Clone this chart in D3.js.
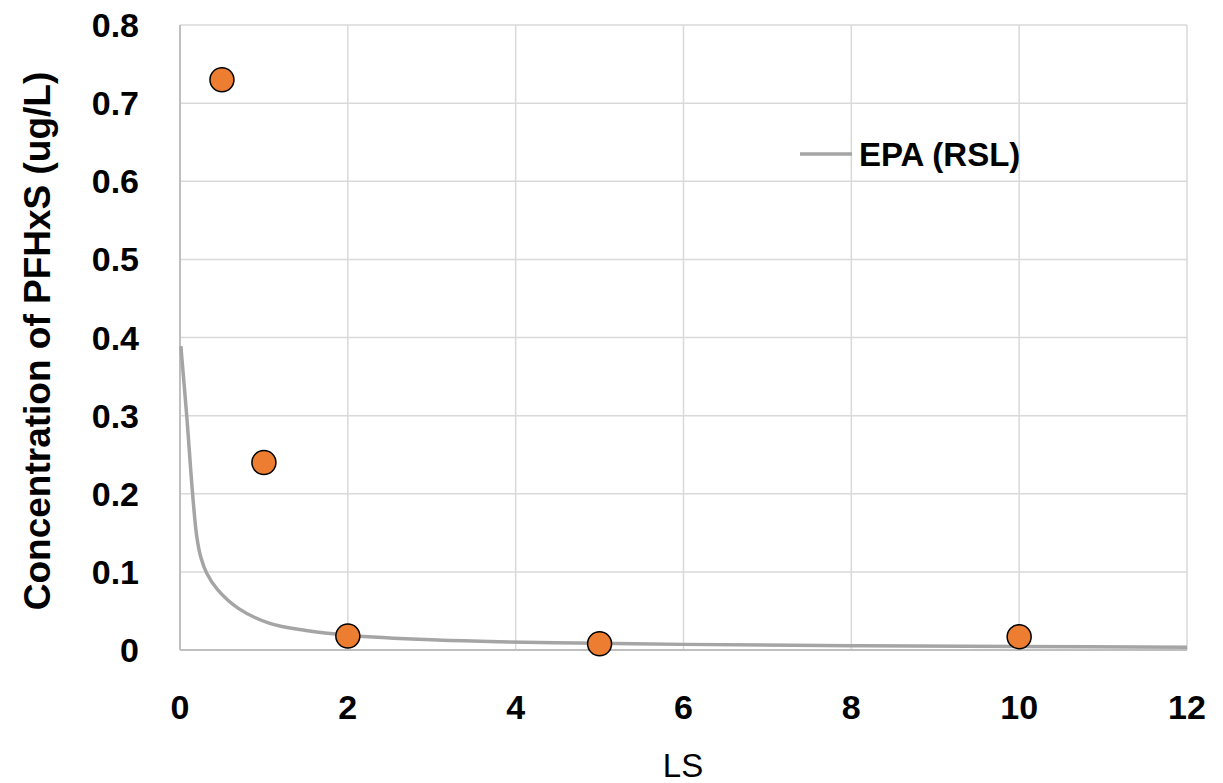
<!DOCTYPE html>
<html lang="en">
  <head>
    <meta charset="UTF-8" />
    <title>PFHxS vs LS</title>
    <style>
      body { margin: 0; background: #fff; }
      text { font-family: "Liberation Sans", Arial, sans-serif; }
    </style>
  </head>
  <body>
    <script src="https://d3js.org/d3.v7.min.js"></script>
    <script>
      const width = 1223
      const height = 783

      // measured points
      const lsValues = [0.5, 1, 2, 5, 10]
      const pfhxs = [0.73, 0.24, 0.018, 0.008, 0.017]

      // EPA (RSL) curve
      const rslX = [0.01, 0.08, 0.15, 0.2, 0.25, 0.32, 0.45, 0.7, 1.07, 1.5, 2, 3, 3.8, 5, 6, 8, 10, 12]
      const rslY = [0.389, 0.3, 0.2, 0.145, 0.118, 0.098, 0.077, 0.053, 0.034, 0.025, 0.019, 0.013, 0.0106, 0.0085, 0.0072, 0.0055, 0.0045, 0.0035]

      const xTicks = [0, 2, 4, 6, 8, 10, 12]
      const yTicks = [0, 0.1, 0.2, 0.3, 0.4, 0.5, 0.6, 0.7, 0.8]

      const svg = d3.select("body").append("svg")
        .attr("width", width)
        .attr("height", height)

      const x = d3.scaleLinear().domain([0, 12]).range([180, 1187])
      const y = d3.scaleLinear().domain([0, 0.8]).range([650, 25])

      // grid
      svg.append("g").selectAll("line.h")
        .data(yTicks.slice(1))
        .enter().append("line")
        .attr("x1", x(0)).attr("x2", x(12))
        .attr("y1", d => y(d)).attr("y2", d => y(d))
        .attr("stroke", "#d9d9d9").attr("stroke-width", 1.5)

      svg.append("g").selectAll("line.v")
        .data(xTicks.slice(1))
        .enter().append("line")
        .attr("x1", d => x(d)).attr("x2", d => x(d))
        .attr("y1", y(0)).attr("y2", y(0.8))
        .attr("stroke", "#d9d9d9").attr("stroke-width", 1.5)

      // axis lines
      svg.append("line")
        .attr("x1", x(0)).attr("x2", x(12))
        .attr("y1", y(0)).attr("y2", y(0))
        .attr("stroke", "#bfbfbf").attr("stroke-width", 2)
      svg.append("line")
        .attr("x1", x(0)).attr("x2", x(0))
        .attr("y1", y(0)).attr("y2", y(0.8))
        .attr("stroke", "#bfbfbf").attr("stroke-width", 2)

      // tick labels
      svg.append("g").selectAll("text")
        .data(yTicks)
        .enter().append("text")
        .attr("x", 139)
        .attr("y", d => y(d) + 12)
        .attr("text-anchor", "end")
        .attr("font-size", 34)
        .attr("font-weight", "bold")
        .text(d => d === 0 ? "0" : d3.format(".1f")(d))

      svg.append("g").selectAll("text")
        .data(xTicks)
        .enter().append("text")
        .attr("x", d => x(d))
        .attr("y", 719)
        .attr("text-anchor", "middle")
        .attr("font-size", 34)
        .attr("font-weight", "bold")
        .text(d => d)

      // axis titles
      svg.append("text")
        .attr("transform", "translate(50,341) rotate(-90)")
        .attr("text-anchor", "middle")
        .attr("font-size", 37)
        .attr("font-weight", "bold")
        .text("Concentration of PFHxS (ug/L)")

      svg.append("text")
        .attr("x", 683)
        .attr("y", 777)
        .attr("text-anchor", "middle")
        .attr("font-size", 33)
        .text("LS")

      // RSL line
      const line = d3.line()
        .x(d => x(d[0]))
        .y(d => y(d[1]))
        .curve(d3.curveCatmullRom.alpha(0.5))

      svg.append("path")
        .datum(d3.zip(rslX, rslY))
        .attr("d", line)
        .attr("fill", "none")
        .attr("stroke", "#a5a5a5")
        .attr("stroke-width", 3.5)

      // points
      svg.append("g").selectAll("circle")
        .data(d3.zip(lsValues, pfhxs))
        .enter().append("circle")
        .attr("cx", d => x(d[0]))
        .attr("cy", d => y(d[1]))
        .attr("r", 12)
        .attr("fill", "#ed7d31")
        .attr("stroke", "#000")
        .attr("stroke-width", 1.5)

      // legend
      svg.append("line")
        .attr("x1", 800).attr("x2", 852)
        .attr("y1", 154).attr("y2", 154)
        .attr("stroke", "#a5a5a5").attr("stroke-width", 3.5)
      svg.append("text")
        .attr("x", 859)
        .attr("y", 166)
        .attr("font-size", 33)
        .attr("font-weight", "bold")
        .text("EPA (RSL)")
    </script>
  </body>
</html>
